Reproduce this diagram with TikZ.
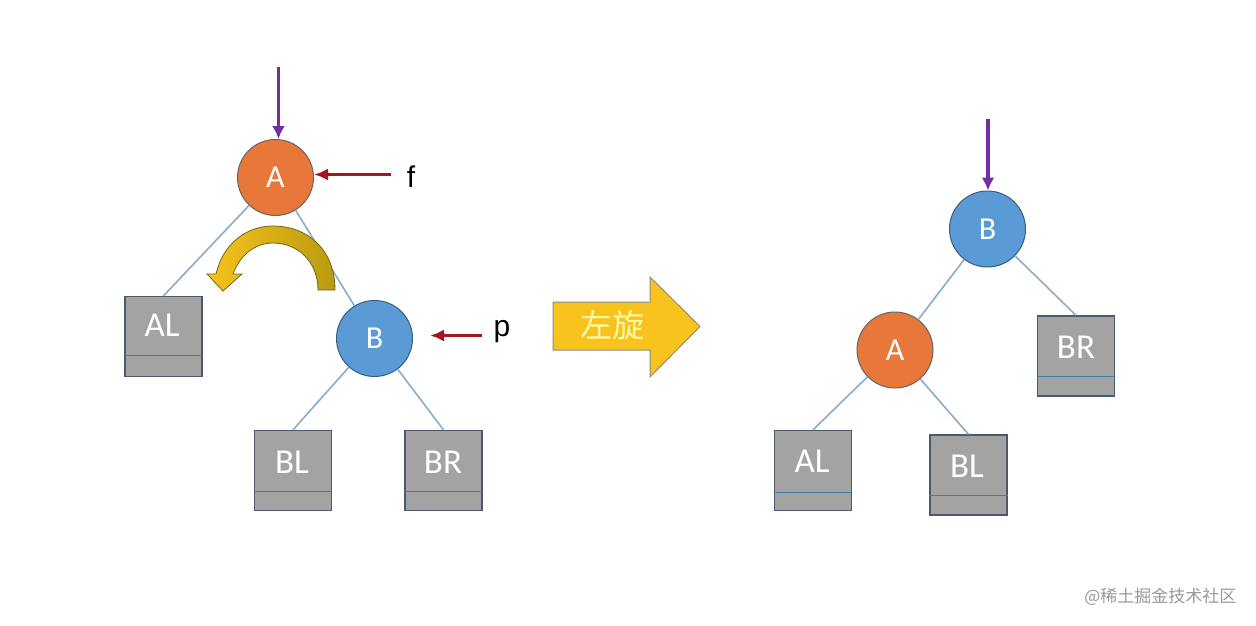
\documentclass[tikz,border=0pt]{standalone}
\usepackage{fontspec}
\setmainfont{Carlito}
\newfontfamily\labfont{Liberation Sans}
\newfontfamily\cjk{Noto Sans CJK SC}
\usetikzlibrary{arrows.meta,shadings}
\definecolor{orangeA}{HTML}{E8773A}
\definecolor{blueB}{HTML}{5B9BD5}
\definecolor{boxgray}{HTML}{A3A3A3}
\definecolor{boxedge}{HTML}{4A5A6E}
\definecolor{divline}{HTML}{3F7FA0}
\definecolor{edgeblue}{HTML}{86AECD}
\definecolor{purp}{HTML}{7030A0}
\definecolor{darkred}{HTML}{A8141E}
\definecolor{arrowyellow}{HTML}{F7C31C}
\tikzset{
  circA/.style={circle,fill=orangeA,draw=black!60,line width=1pt,minimum size=76pt,inner sep=0pt,text=white,font=\fontsize{32}{34}\selectfont},
  circB/.style={circle,fill=blueB,draw=blueB!60!black,line width=1pt,minimum size=76pt,inner sep=0pt,text=white,font=\fontsize{32}{34}\selectfont},
  leaf/.style={rectangle,fill=boxgray,draw=boxedge,line width=1.3pt,minimum width=77pt,minimum height=80pt,inner sep=0pt},
  leaftext/.style={font=\fontsize{35}{37}\selectfont,text=white},
  tedge/.style={draw=edgeblue,line width=1.6pt},
  purparrow/.style={draw=purp,line width=3.5pt,-{Latex[length=13pt,width=13pt]}},
  redarrow/.style={draw=darkred,line width=3pt,-{Latex[length=14pt,width=12pt]}},
  lab/.style={font=\labfont\fontsize{30}{32}\selectfont,text=black},
}
\newcommand{\leafdiv}[2]{\draw[divline,line width=1.3pt] ([yshift=#2]#1.south west) -- ([yshift=#2]#1.south east);}
\begin{document}
\begin{tikzpicture}[x=1pt,y=-1pt]
\useasboundingbox[fill=white] (0,0) rectangle (1256,626);

% ---------- left tree ----------
\node[circA] (A1) at (275.5,177.5) {A};
\node[circB] (B1) at (374.5,338.5) {B};
\node[leaf] (AL1) at (163.5,336.5) {};
\node[leaf] (BL1) at (293,470.5) {};
\node[leaf] (BR1) at (443.5,470.5) {};
\node[leaftext] (tAL1) at (162,325) {AL};
\node[leaftext] (tBL1) at (292,462) {BL};
\node[leaftext] (tBR1) at (443,462) {BR};
\leafdiv{AL1}{22pt}
\leafdiv{BL1}{20pt}
\leafdiv{BR1}{20pt}

\draw[tedge] (A1) -- (AL1.north);
\draw[tedge] (A1) -- (B1);
\draw[tedge] (B1) -- (BL1.north);
\draw[tedge] (B1) -- (BR1.north);

\coordinate (topA) at (278.5,67);
\draw[purparrow] (topA) -- (topA |- A1.north);
\node[lab] (f) at (411,177) {f};
\coordinate (fs) at (391,174.5);
\draw[redarrow] (fs) -- (fs -| A1.east);
\node[lab] (p) at (502,332) {p};
\coordinate (ps) at (482,335.5);
\draw[redarrow] (ps) -- ([xshift=17pt]ps -| B1.east);

% curved rotation arrow
\shade[left color=arrowyellow,right color=arrowyellow!70!black!85!yellow,draw=olive!70!black,line width=0.8pt]
  (335,290) .. controls (335,250) and (308,226) .. (273,226)
  .. controls (246,226) and (223,244) .. (216,274)
  -- (207,274) -- (223,291) -- (242,274) -- (233,274)
  .. controls (240,255) and (255,243) .. (273,243)
  .. controls (298,243) and (318,262) .. (318,290) -- cycle;

% big arrow
\draw[fill=arrowyellow,draw=black!45,line width=1pt]
  (553,302) -- (650,302) -- (650,277) -- (700,326.5) -- (650,377) -- (650,350) -- (553,350) -- cycle;
\node[font=\cjk\fontsize{32}{34}\selectfont,text=yellow!35!white] (rot) at (612,325) {左旋};

% ---------- right tree ----------
\node[circB] (B2) at (987.5,229) {B};
\node[circA] (A2) at (895,350) {A};
\node[leaf] (BR2) at (1076,356) {};
\node[leaf] (AL2) at (813,470.5) {};
\node[leaf] (BL2) at (968.5,475) {};
\node[leaftext] (tBR2) at (1076,347) {BR};
\node[leaftext] (tAL2) at (812,461) {AL};
\node[leaftext] (tBL2) at (967,466) {BL};
\leafdiv{BR2}{20pt}
\leafdiv{AL2}{19pt}
\leafdiv{BL2}{20pt}

\draw[tedge] (B2) -- (A2);
\draw[tedge] (B2) -- (BR2.north);
\draw[tedge] (A2) -- (AL2.north);
\draw[tedge] (A2) -- (BL2.north);

\coordinate (topB) at (988,119);
\draw[purparrow] (topB) -- (topB |- B2.north);

% watermark
\node[font=\cjk\fontsize{17}{19}\selectfont,text=black!40,anchor=east] (wm) at (1240,597) {@稀土掘金技术社区};
\end{tikzpicture}
\end{document}
